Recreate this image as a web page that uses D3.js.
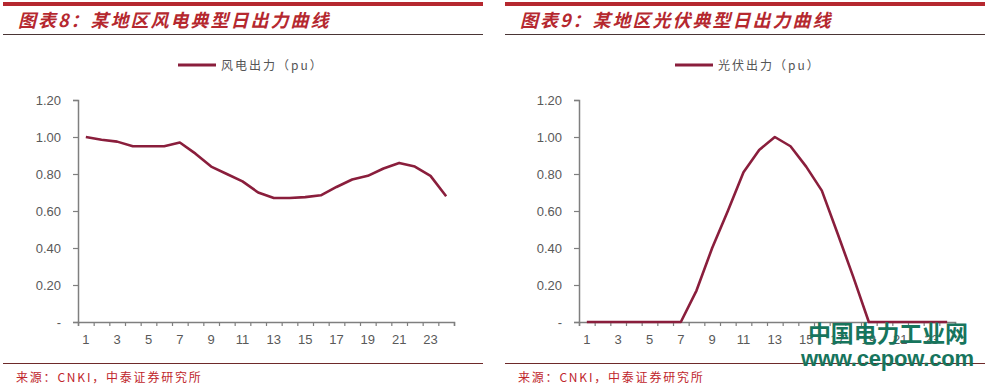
<!DOCTYPE html>
<html>
<head>
<meta charset="utf-8">
<script src="https://cdn.jsdelivr.net/npm/d3@7"></script>
<style>
  body { margin: 0; background: #fff; }
  svg { display: block; }
</style>
</head>
<body>
<svg id="chart" width="988" height="388"></svg>
<script>
// hours of the day, 1..24
const hours = d3.range(1, 25);
const hourLabels = [1, 3, 5, 7, 9, 11, 13, 15, 17, 19, 21, 23];
const yTicks = [0, 0.2, 0.4, 0.6, 0.8, 1.0, 1.2];

// wind power output (pu)
const windOutput = [1.00, 0.985, 0.975, 0.95, 0.95, 0.95, 0.97, 0.91, 0.84, 0.80, 0.76, 0.70,
  0.67, 0.67, 0.675, 0.685, 0.73, 0.77, 0.79, 0.83, 0.86, 0.84, 0.79, 0.68];
// solar power output (pu)
const solarOutput = [0, 0, 0, 0, 0, 0, 0, 0.17, 0.40, 0.60, 0.81, 0.93,
  1.00, 0.95, 0.84, 0.71, 0.48, 0.245, 0, 0, 0, 0, 0, 0];

const panels = [
  { left: 3, axisX: 78, title: "图表8：某地区风电典型日出力曲线", legend: "风电出力（pu）", legendX: 178, values: windOutput },
  { left: 505, axisX: 579, title: "图表9：某地区光伏典型日出力曲线", legend: "光伏出力（pu）", legendX: 675, values: solarOutput }
];

const lineColor = "#8a1e3c";
const plotTop = 100, plotBottom = 322, plotWidth = 376;

const svg = d3.select("#chart");

panels.forEach(p => {
  const g = svg.append("g");

  // header bar, title and rule
  g.append("rect").attr("x", p.left).attr("y", 2).attr("width", 480).attr("height", 4).attr("fill", "#b5282f");
  g.append("text")
    .attr("x", p.left + 15).attr("y", 27)
    .attr("font-family", "Noto Sans CJK SC")
    .attr("font-size", 18).attr("font-weight", "bold").attr("font-style", "italic")
    .attr("letter-spacing", 2)
    .attr("fill", "#b5282f")
    .text(p.title);
  g.append("line").attr("x1", p.left).attr("x2", p.left + 480).attr("y1", 34.5).attr("y2", 34.5)
    .attr("stroke", "#4a3535").attr("stroke-width", 1);

  // legend
  g.append("line").attr("x1", p.legendX).attr("x2", p.legendX + 38).attr("y1", 65).attr("y2", 65)
    .attr("stroke", lineColor).attr("stroke-width", 3);
  g.append("text")
    .attr("x", p.legendX + 43).attr("y", 69.5)
    .attr("font-family", "Noto Sans CJK SC").attr("font-size", 12)
    .attr("letter-spacing", 2)
    .attr("fill", "#555")
    .text(p.legend);

  const plot = g.append("g").attr("transform", `translate(${p.axisX},${plotTop})`);
  const h = plotBottom - plotTop;

  const x = d3.scaleBand().domain(hours).range([0, plotWidth]);
  const xEdge = d3.scaleLinear().domain([0, 24]).range([0, plotWidth]);
  const y = d3.scaleLinear().domain([0, 1.2]).range([h, 0]);

  // y axis
  const yAxis = plot.append("g")
    .call(d3.axisLeft(y).tickValues(yTicks).tickSize(5).tickPadding(12)
      .tickFormat(d => d === 0 ? "-" : d.toFixed(2)));
  // x axis boundary ticks
  const xAxis = plot.append("g").attr("transform", `translate(0,${h})`)
    .call(d3.axisBottom(xEdge).tickValues(d3.range(0, 25)).tickSize(4).tickFormat(""));
  // x labels
  const xLab = plot.append("g").attr("transform", `translate(0,${h})`)
    .call(d3.axisBottom(x).tickValues(hourLabels).tickSize(0).tickPadding(13));
  xLab.select(".domain").remove();

  [yAxis, xAxis].forEach(a => {
    a.select(".domain").attr("stroke", "#7f7f7f").attr("stroke-width", 1.5);
    a.selectAll(".tick line").attr("stroke", "#7f7f7f").attr("stroke-width", 1.2);
  });
  [yAxis, xLab].forEach(a => {
    a.selectAll("text").attr("font-family", "Liberation Sans").attr("font-size", 13).attr("fill", "#595959");
  });

  const line = d3.line()
    .x((d, i) => x(hours[i]) + x.bandwidth() / 2)
    .y(d => y(d));

  plot.append("path")
    .datum(p.values)
    .attr("fill", "none")
    .attr("stroke", lineColor)
    .attr("stroke-width", 2.6)
    .attr("stroke-linejoin", "round")
    .attr("d", line);

  // footer rule and source
  g.append("line").attr("x1", p.left).attr("x2", p.left + 480).attr("y1", 363.5).attr("y2", 363.5)
    .attr("stroke", "#6e2a2a").attr("stroke-width", 1);
  g.append("text")
    .attr("x", p.left + 13).attr("y", 382)
    .attr("font-family", "Noto Sans CJK SC").attr("font-size", 12)
    .attr("letter-spacing", 1.8)
    .attr("fill", "#c0262c")
    .text("来源：CNKI，中泰证券研究所");
});

// watermark (sits over the right chart's axis labels, as in the source image)
svg.append("text")
  .attr("x", 808).attr("y", 342)
  .attr("font-family", "Noto Sans CJK SC").attr("font-size", 23).attr("font-weight", "bold")
  .attr("textLength", 160).attr("fill", "#17755d")
  .text("中国电力工业网");
svg.append("text")
  .attr("x", 801).attr("y", 366)
  .attr("font-family", "Liberation Sans").attr("font-size", 22).attr("font-weight", "bold")
  .attr("textLength", 173).attr("fill", "#17755d")
  .text("www.cepow.com");
</script>
</body>
</html>
